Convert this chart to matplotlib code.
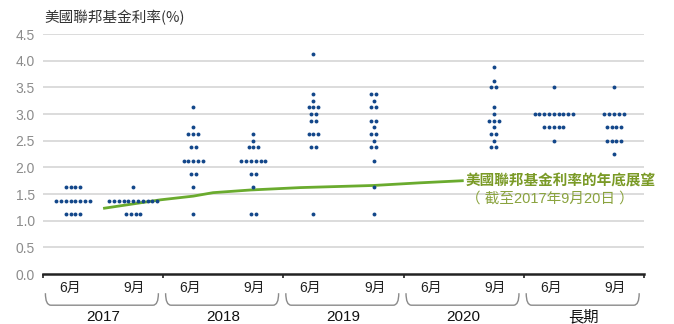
import matplotlib.pyplot as plt
from matplotlib.path import Path
from matplotlib.patches import PathPatch
import matplotlib.transforms as mtransforms

plt.rcParams['font.family'] = ['Liberation Sans', 'Noto Sans CJK TC', 'DejaVu Sans']

# dot plot: (rate, number of dots) for each column
d2017_jun = [(1.625, 4), (1.375, 8), (1.125, 4)]
d2017_sep = [(1.625, 1), (1.375, 11), (1.125, 4)]
d2018_jun = [(3.125, 1), (2.75, 1), (2.625, 3), (2.375, 2), (2.125, 5), (1.875, 2), (1.625, 1), (1.125, 1)]
d2018_sep = [(2.625, 1), (2.5, 1), (2.375, 3), (2.125, 6), (1.875, 2), (1.625, 1), (1.125, 2)]
d2019_jun = [(4.125, 1), (3.375, 1), (3.25, 1), (3.125, 3), (3.0, 2), (2.875, 2), (2.625, 3), (2.375, 2), (1.125, 1)]
d2019_sep = [(3.375, 2), (3.25, 1), (3.125, 2), (2.875, 2), (2.75, 1), (2.625, 2), (2.5, 1), (2.375, 2),
             (2.125, 1), (1.625, 1), (1.125, 1)]
d2020_jun = []
d2020_sep = [(3.875, 1), (3.625, 1), (3.5, 2), (3.125, 1), (3.0, 1), (2.875, 3), (2.75, 1), (2.625, 2),
             (2.5, 1), (2.375, 2)]
dlr_jun = [(3.5, 1), (3.0, 9), (2.75, 5), (2.5, 1)]
dlr_sep = [(3.5, 1), (3.0, 5), (2.75, 4), (2.5, 4), (2.25, 1)]
columns = [d2017_jun, d2017_sep, d2018_jun, d2018_sep, d2019_jun, d2019_sep,
           d2020_jun, d2020_sep, dlr_jun, dlr_sep]

months = ['6月', '9月']
groups = ['2017', '2018', '2019', '2020', '長期']

# market expectation line (year end)
line_x = [0.5, 1.45, 2.0, 2.33, 2.95, 3.78, 5.0, 5.78, 6.5]
line_y = [1.23, 1.39, 1.46, 1.525, 1.575, 1.62, 1.66, 1.71, 1.75]

yticks = [0.0, 0.5, 1.0, 1.5, 2.0, 2.5, 3.0, 3.5, 4.0, 4.5]

W, H = 674, 324
fig = plt.figure(figsize=(W / 100, H / 100), dpi=100)
ax = fig.add_axes([43 / W, 1 - 274 / H, (644 - 43) / W, 240 / H])
ax.set_xlim(-0.5, 9.5)
ax.set_ylim(0, 4.5)

for y in yticks[1:]:
    ax.axhline(y, color='#dcdcdc', lw=1.4, zorder=0)

dot_color = '#13478a'
step = 0.08
for i, col in enumerate(columns):
    for val, n in col:
        xs = [i + (k - (n - 1) / 2) * step for k in range(n)]
        ax.plot(xs, [val] * n, 'o', color=dot_color, ms=2.8, mew=0, zorder=3)

ax.plot(line_x, line_y, color='#6aab2e', lw=2.0, zorder=2, solid_capstyle='butt')
ax.text(6.53, 1.75, '美國聯邦基金利率的年底展望', color='#7a9a26', fontsize=10.5,
        fontweight='bold', ha='left', va='center', family=['Noto Sans CJK TC'])
ax.text(6.53, 1.41, '（ 截至2017年9月20日 ）', color='#8aa33e', fontsize=10.5,
        ha='left', va='center', family=['Liberation Sans', 'Noto Sans CJK TC'])

for s in ['top', 'right', 'left']:
    ax.spines[s].set_visible(False)
ax.spines['bottom'].set_linewidth(1.8)
ax.spines['bottom'].set_color('#222222')
ax.set_xticks([-0.5, 1.5, 3.5, 5.5, 7.5, 9.5])
ax.set_xticklabels([])
ax.tick_params(axis='x', length=3, width=1.2, color='#222222', direction='out')
ax.set_yticks(yticks)
ax.set_yticklabels([f'{v:.1f}' for v in yticks], color='#8c8c8c', fontsize=10,
                   family=['Liberation Sans Narrow', 'Liberation Sans'])
ax.tick_params(axis='y', length=0, pad=6)

trans = mtransforms.blended_transform_factory(ax.transData, ax.transAxes)
ytop, ybot = -0.08, -0.13
for g, name in enumerate(groups):
    ax.text(2 * g - 0.05, -0.058, months[0], transform=trans, ha='center', va='center',
            fontsize=10, color='#222222', family=['Liberation Sans', 'Noto Sans CJK TC'])
    ax.text(2 * g + 1.02, -0.058, months[1], transform=trans, ha='center', va='center',
            fontsize=10, color='#222222', family=['Liberation Sans', 'Noto Sans CJK TC'])
    ax.text(2 * g + 0.5, -0.18, name, transform=trans, ha='center', va='center',
            fontsize=11, color='#111111', family=['Liberation Sans', 'Noto Sans CJK TC'])
    x0, x1, dx = 2 * g - 0.46, 2 * g + 1.42, 0.09
    verts = [(x0, ytop), (x0, ybot), (x0 + dx, ybot), (x1 - dx, ybot), (x1, ybot), (x1, ytop)]
    codes = [Path.MOVETO, Path.CURVE3, Path.CURVE3, Path.LINETO, Path.CURVE3, Path.CURVE3]
    ax.add_patch(PathPatch(Path(verts, codes), transform=trans, fill=False,
                           edgecolor='#8a8a8a', lw=1.0, clip_on=False))

fig.text(44 / W, 1 - 18 / H, '美國聯邦基金利率(%)', fontsize=10.5, color='#333333',
         ha='left', va='center', family=['Noto Sans CJK TC'])

fig.savefig('out.png', dpi=100)
